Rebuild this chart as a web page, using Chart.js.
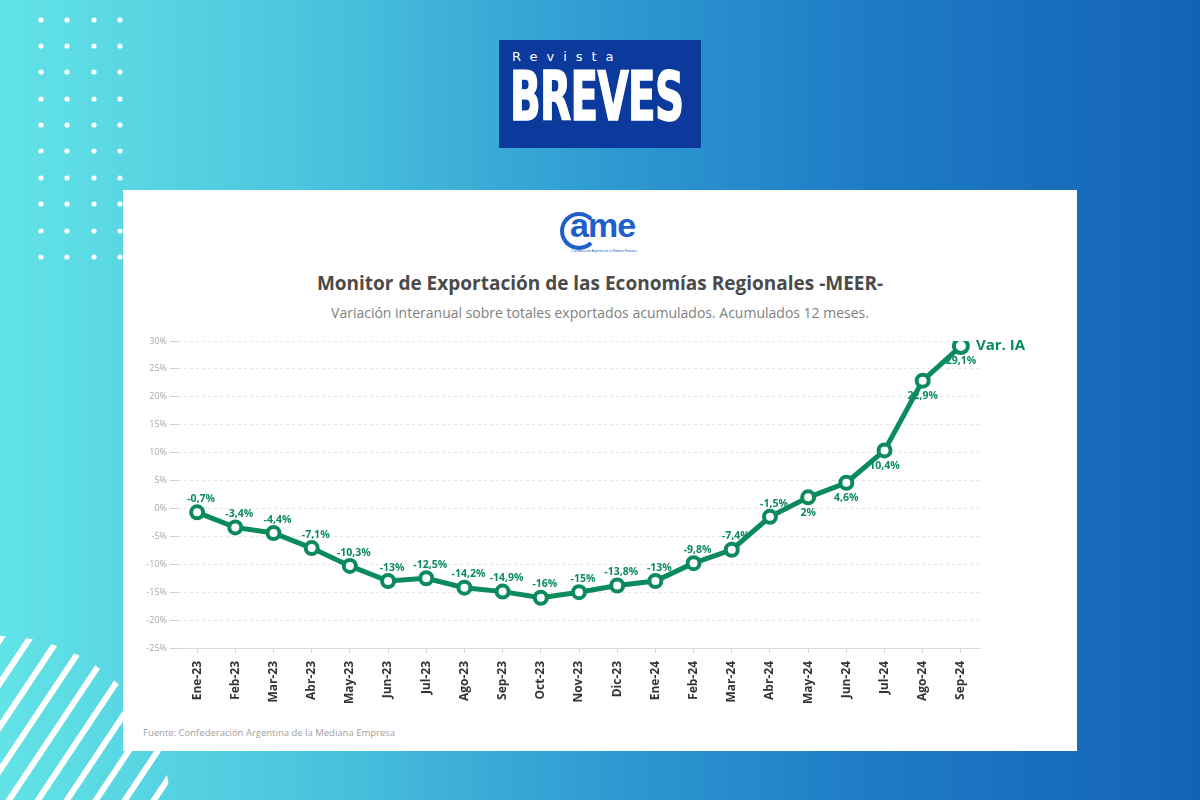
<!DOCTYPE html>
<html lang="es">
<head>
<meta charset="utf-8">
<title>Monitor de Exportación de las Economías Regionales -MEER-</title>
<script src="https://cdn.jsdelivr.net/npm/chart.js@4.4.1/dist/chart.umd.min.js"></script>
<style>
  html, body { margin: 0; padding: 0; }
  body {
    width: 1200px; height: 800px; position: relative; overflow: hidden;
    background: linear-gradient(to right, #62e3e6 0%, #4bc6de 25%, #2f9bd2 50%, #1e7cc6 72%, #1462b6 100%);
    font-family: "Open Sans", sans-serif;
  }
  #deco { position: absolute; left: 0; top: 0; }
  .brand {
    position: absolute; left: 499px; top: 40px; width: 202px; height: 108px;
    background: #0b3a9c; color: #fff; overflow: hidden;
  }
  .brand .rev {
    position: absolute; left: 13px; top: 9px;
    font: 13px "DejaVu Sans", sans-serif; letter-spacing: 9px;
  }
  .brand .brv {
    position: absolute; left: 11px; top: 17px; white-space: nowrap;
    font: 900 68px "DejaVu Sans Condensed", "DejaVu Sans", sans-serif;
    transform: scaleX(0.66); transform-origin: left top; letter-spacing: -1px;
    -webkit-text-stroke: 1.5px #fff;
  }
  .card {
    position: absolute; left: 123px; top: 190px; width: 954px; height: 561px;
    background: #fff;
  }
  .logo {
    position: absolute; left: 437px; top: 20px; width: 90px; height: 44px;
    color: #1f5fcc; font: bold 34px "Liberation Sans", Arial, sans-serif;
  }
  .logo .ring {
    position: absolute; left: 0; top: 2px; width: 30px; height: 30px;
    border: 4px solid #1f5fcc; border-right-color: transparent; border-radius: 50%;
  }
  .logo .txt { position: absolute; left: 10px; top: -4px; letter-spacing: -1px; }
  .logo .sub {
    position: absolute; left: 4px; top: 39px; width: 80px; text-align: center;
    font: 3px "Liberation Sans", sans-serif; color: #1f5fcc; white-space: nowrap;
  }
  .title {
    position: absolute; left: 0; top: 80px; width: 954px; text-align: center;
    font: bold 19px "Open Sans", sans-serif; color: #4a4a4a;
  }
  .subtitle {
    position: absolute; left: 0; top: 113px; width: 954px; text-align: center;
    font: 14px "Open Sans", sans-serif; color: #808080;
  }
  #grafico { position: absolute; left: 0; top: 130px; }
  .fuente {
    position: absolute; left: 20px; top: 536px;
    font: 9.5px "Open Sans", sans-serif; color: #a0a0a0;
  }
</style>
</head>
<body>
<svg id="deco" width="1200" height="800"></svg>

<div class="brand">
  <div class="rev">Revista</div>
  <div class="brv">BREVES</div>
</div>

<div class="card">
  <div class="logo">
    <div class="ring"></div>
    <div class="txt">ame</div>
    <div class="sub">Confederación Argentina de la Mediana Empresa</div>
  </div>
  <div class="title">Monitor de Exportación de las Economías Regionales -MEER-</div>
  <div class="subtitle">Variación interanual sobre totales exportados acumulados. Acumulados 12 meses.</div>
  <canvas id="grafico" width="954" height="398"></canvas>
  <div class="fuente">Fuente: Confederación Argentina de la Mediana Empresa</div>
</div>

<script>
// Datos del gráfico (variación interanual, %)
const meses = ['Ene-23', 'Feb-23', 'Mar-23', 'Abr-23', 'May-23', 'Jun-23', 'Jul-23', 'Ago-23', 'Sep-23', 'Oct-23', 'Nov-23',
               'Dic-23', 'Ene-24', 'Feb-24', 'Mar-24', 'Abr-24', 'May-24', 'Jun-24', 'Jul-24', 'Ago-24', 'Sep-24'];
const variacion = [-0.7, -3.4, -4.4, -7.1, -10.3, -13, -12.5, -14.2, -14.9, -16, -15,
                   -13.8, -13, -9.8, -7.4, -1.5, 2, 4.6, 10.4, 22.9, 29.1];
const serie = 'Var. IA';
const yMin = -25, yMax = 30, yPaso = 5;

const VERDE = '#0b8a5b';

// Decoración de fondo: puntos y rayas
const svg = document.getElementById('deco');
const NS = 'http://www.w3.org/2000/svg';
[41, 67, 94, 120].forEach(x => {
    [20, 46, 72, 99, 125, 151, 178, 204, 231, 257].forEach(y => {
        const c = document.createElementNS(NS, 'circle');
        c.setAttribute('cx', x); c.setAttribute('cy', y); c.setAttribute('r', 2.6);
        c.setAttribute('fill', '#fff');
        svg.appendChild(c);
    });
});
const defs = document.createElementNS(NS, 'defs');
defs.innerHTML = '<clipPath id="corte"><circle cx="0" cy="806" r="170"/></clipPath>';
svg.appendChild(defs);
const rayas = document.createElementNS(NS, 'g');
rayas.setAttribute('clip-path', 'url(#corte)');
for (let x0 = -107; x0 < 190; x0 += 29) {
    const l = document.createElementNS(NS, 'line');
    l.setAttribute('x1', x0 - 20); l.setAttribute('y1', 830);
    l.setAttribute('x2', x0 + 200); l.setAttribute('y2', 500);
    l.setAttribute('stroke', '#fff'); l.setAttribute('stroke-width', 6);
    rayas.appendChild(l);
}
svg.appendChild(rayas);

// Etiquetas de valores y nombre de la serie
const etiquetas = {
    id: 'etiquetas',
    afterDatasetsDraw(chart) {
        const ctx = chart.ctx;
        const meta = chart.getDatasetMeta(0);
        ctx.save();
        ctx.fillStyle = VERDE;
        ctx.textAlign = 'center';
        ctx.font = 'bold 10.5px "Open Sans"';
        meta.data.forEach((pt, i) => {
            const v = chart.data.datasets[0].data[i];
            const txt = String(v).replace('.', ',') + '%';
            if (v >= 0) {
                ctx.textBaseline = 'top';
                ctx.fillText(txt, pt.x, pt.y + 10);
            } else {
                ctx.textBaseline = 'bottom';
                ctx.fillText(txt, pt.x + 4, pt.y - 8);
            }
        });
        const ult = meta.data[meta.data.length - 1];
        ctx.font = 'bold 15px "Open Sans"';
        ctx.textAlign = 'left';
        ctx.textBaseline = 'middle';
        ctx.fillText(chart.data.datasets[0].label, ult.x + 15, ult.y);
        ctx.restore();
    }
};

const ctx = document.getElementById('grafico').getContext('2d');
new Chart(ctx, {
    type: 'line',
    data: {
        labels: meses,
        datasets: [{
            label: serie,
            data: variacion,
            borderColor: VERDE,
            borderWidth: 5,
            tension: 0,
            pointBackgroundColor: '#fff',
            pointBorderColor: VERDE,
            pointBorderWidth: 4,
            pointRadius: c => c.dataIndex === variacion.length - 1 ? 7 : 6
        }]
    },
    options: {
        responsive: false,
        animation: false,
        layout: { padding: { top: 21, right: 97, left: 0, bottom: 0 } },
        plugins: { legend: { display: false }, tooltip: { enabled: false } },
        scales: {
            x: {
                offset: true,
                grid: { drawOnChartArea: false, tickLength: 5, color: '#d0d0d0' },
                border: { display: true, color: '#dcdcdc' },
                ticks: {
                    minRotation: 90, maxRotation: 90, autoSkip: false, padding: 8,
                    color: '#333', font: { size: 12, weight: 'bold', family: '"Open Sans"' }
                },
                afterFit: s => { s.height = 70; }
            },
            y: {
                min: yMin, max: yMax,
                grid: { color: '#e6e6e6', tickLength: 8, tickColor: '#cfcfcf', tickBorderDash: [] },
                border: { display: false, dash: [3, 3] },
                ticks: {
                    stepSize: yPaso, padding: 3,
                    callback: v => v + '%',
                    color: '#a8a8a8', font: { size: 9, family: '"Open Sans"' }
                },
                afterFit: s => { s.width = 55; }
            }
        }
    },
    plugins: [etiquetas]
});
</script>
</body>
</html>
